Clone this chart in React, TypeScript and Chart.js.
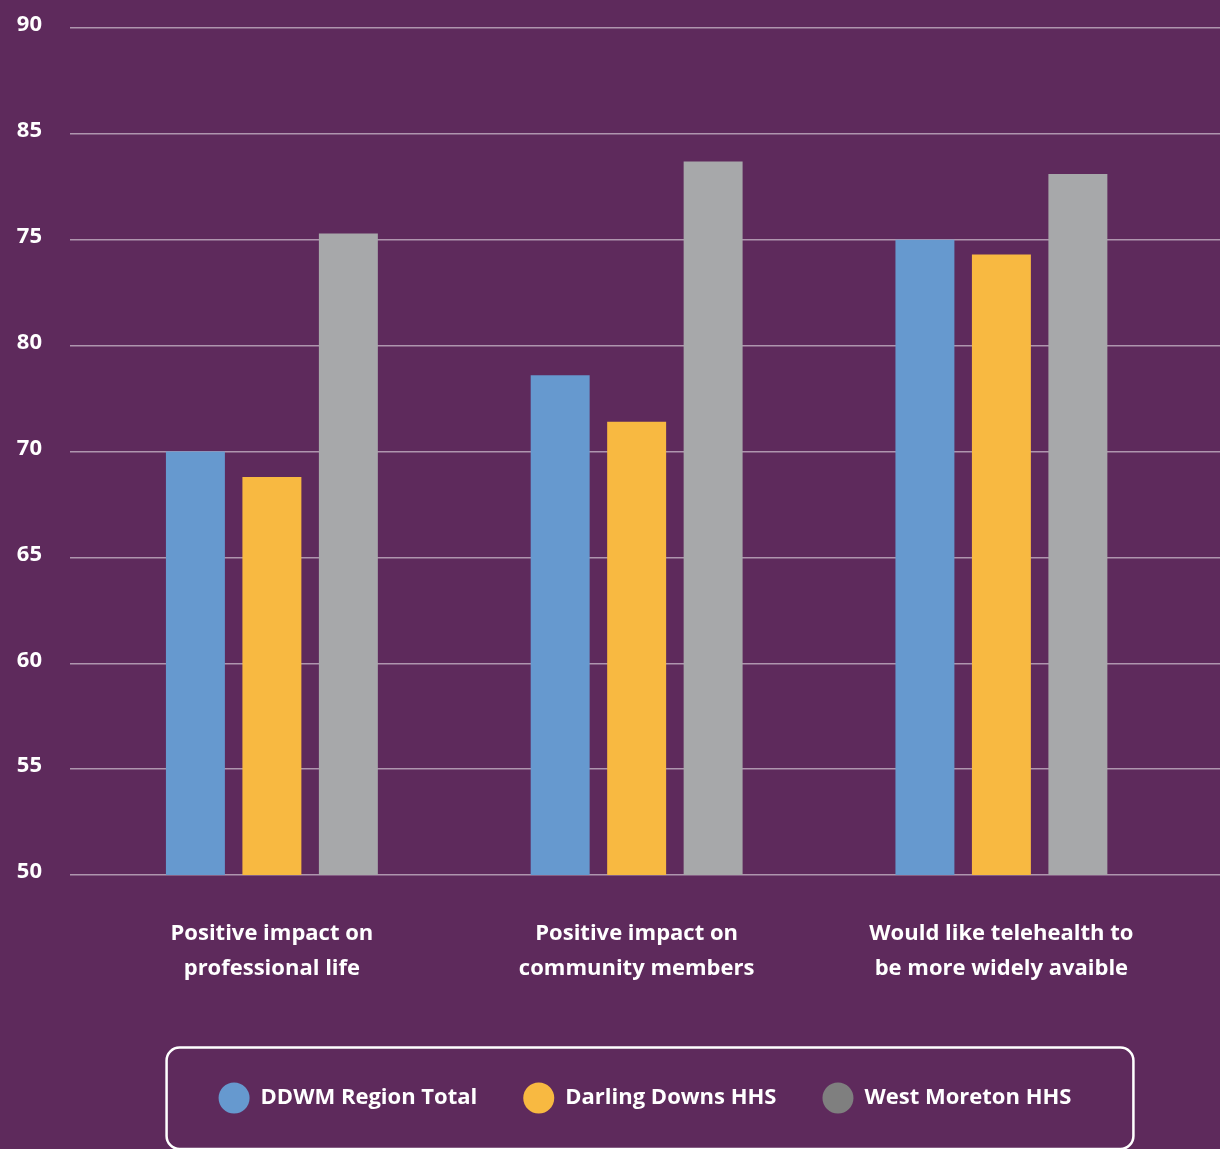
import React, { useEffect, useRef } from "react";
import { Chart, registerables } from "chart.js";

Chart.register(...registerables);

const categories: string[][] = [
  ["Positive impact on", "professional life"],
  ["Positive impact on", "community members"],
  ["Would like telehealth to", "be more widely avaible"],
];
const seriesNames = ["DDWM Region Total", "Darling Downs HHS", "West Moreton HHS"];
const ddwmValues = [70, 73.6, 80];
const darlingDownsValues = [68.8, 71.4, 79.3];
const westMoretonValues = [80.3, 83.7, 83.1];
const yTickLabels = ["50", "55", "60", "65", "70", "80", "75", "85", "90"];
const barColors = ["#6699CF", "#F8B941", "#A7A8AA"];
const legendColors = ["#6699CF", "#F8B941", "#7F7F7F"];

const BG = "#5E2A5C";
const FONT = "'Open Sans', Lato, sans-serif";

const legendBoxPlugin = {
  id: "legendBox",
  afterDraw(chart: any) {
    const lg = chart.legend;
    if (!lg || !lg.legendHitBoxes || !lg.legendHitBoxes.length) return;
    const hb = lg.legendHitBoxes;
    const first = hb[0];
    const last = hb[hb.length - 1];
    const cy = first.top + first.height / 2;
    const left = first.left - 52;
    const right = last.left + last.width + 62;
    const top = cy - 50.5;
    const bottom = cy + 51;
    const ctx = chart.ctx;
    ctx.save();
    ctx.strokeStyle = "#ffffff";
    ctx.lineWidth = 2.5;
    ctx.beginPath();
    ctx.roundRect(left, top, right - left, bottom - top, 13);
    ctx.stroke();
    ctx.restore();
  },
};

export default function App() {
  const ref = useRef<HTMLCanvasElement | null>(null);

  useEffect(() => {
    if (!ref.current) return;
    const seriesValues = [ddwmValues, darlingDownsValues, westMoretonValues];
    const chart = new Chart(ref.current, {
      type: "bar",
      data: {
        labels: categories,
        datasets: seriesNames.map((name, i) => ({
          label: name,
          data: seriesValues[i],
          backgroundColor: barColors[i],
          borderWidth: 0,
          categoryPercentage: 0.629,
          barPercentage: 0.771,
        })),
      },
      options: {
        responsive: true,
        maintainAspectRatio: false,
        animation: false,
        layout: { padding: { top: 28, left: 0, right: 0, bottom: 30 } },
        plugins: {
          tooltip: { enabled: false },
          legend: {
            position: "bottom",
            fullSize: false,
            labels: {
              color: "#ffffff",
              font: { family: FONT, size: 22, weight: "bold" },
              usePointStyle: true,
              pointStyle: "circle",
              boxHeight: 22,
              pointStyleWidth: 31,
              padding: 46,
              generateLabels: (c: any) => {
                const items = (Chart.defaults.plugins.legend.labels as any).generateLabels(c);
                return items.map((it: any, i: number) => ({
                  ...it,
                  fillStyle: legendColors[i],
                  strokeStyle: legendColors[i],
                  lineWidth: 0,
                  fontColor: "#ffffff",
                }));
              },
            },
          },
        },
        scales: {
          x: {
            grid: { display: false },
            border: { display: false },
            ticks: {
              color: "#ffffff",
              font: { family: FONT, size: 22, weight: "bold", lineHeight: 1.6 },
              padding: 33,
              maxRotation: 0,
              autoSkip: false,
            },
            afterBuildTicks: (s: any) => {
              s._startValue = -0.5535;
              s._valueRange = 3.1528;
            },
            afterFit: (s: any) => {
              s.height = 166;
            },
          },
          y: {
            min: 50,
            max: 90,
            ticks: {
              stepSize: 5,
              color: "#ffffff",
              font: { family: FONT, size: 22, weight: "bold" },
              padding: 28,
              labelOffset: -3,
              callback: (_v: any, i: number) => yTickLabels[i],
            },
            grid: { color: "rgba(255,255,255,0.5)", lineWidth: 1.5, drawTicks: false },
            border: { display: false },
            afterFit: (s: any) => {
              s.width = 70;
              s.paddingTop = 0;
              s.paddingBottom = 0;
            },
          },
        },
      } as any,
      plugins: [legendBoxPlugin],
    });
    return () => chart.destroy();
  }, []);

  return (
    <div
      style={{
        position: "fixed",
        left: 0,
        top: 0,
        width: 1220,
        height: 1149,
        background: BG,
      }}
    >
      <canvas ref={ref} />
    </div>
  );
}
